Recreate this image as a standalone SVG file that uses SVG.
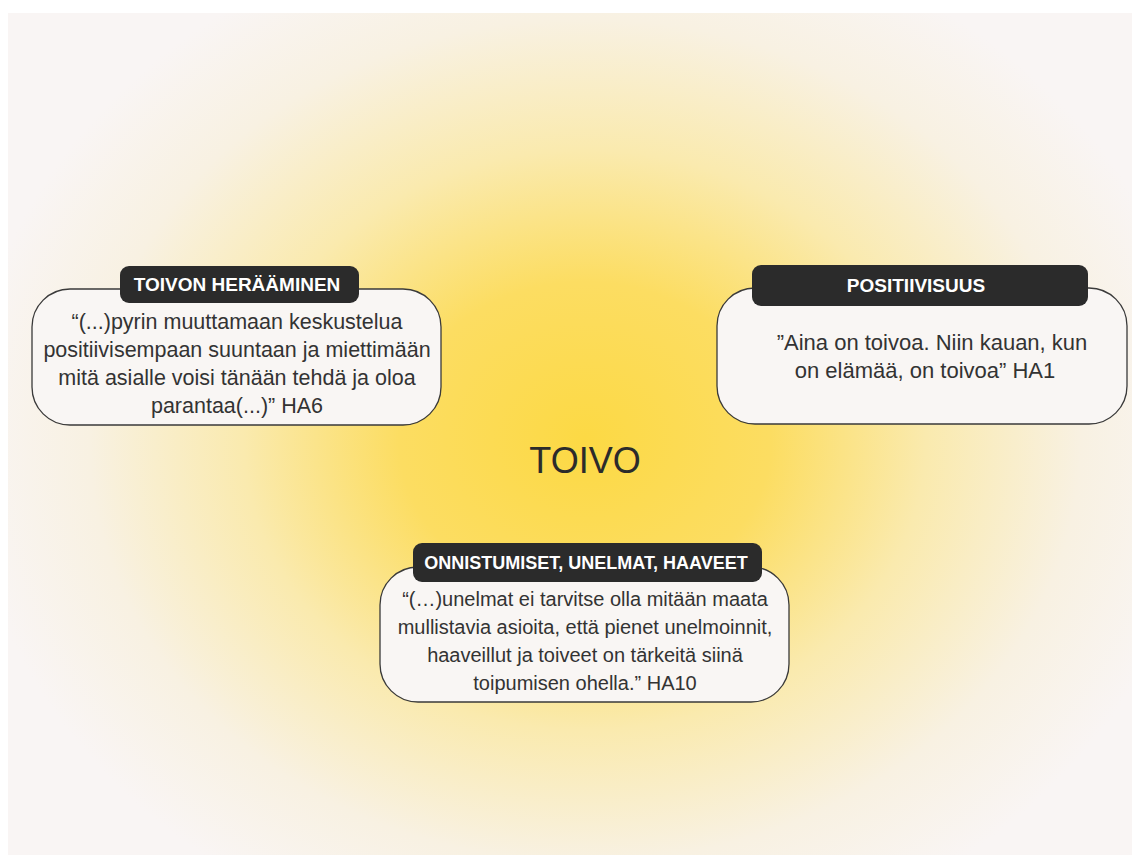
<svg xmlns="http://www.w3.org/2000/svg" width="1132" height="855" viewBox="0 0 1132 855">
<defs>
<radialGradient id="bg" cx="585" cy="440" r="620" gradientUnits="userSpaceOnUse" gradientTransform="translate(585 440) scale(1 0.85) translate(-585 -440)">
<stop offset="0" stop-color="#fcd944"/>
<stop offset="0.3" stop-color="#fcdd62"/>
<stop offset="0.55" stop-color="#faeaae"/>
<stop offset="0.8" stop-color="#f8f1e2"/>
<stop offset="1" stop-color="#f9f5f4"/>
</radialGradient>
<style>
.body{fill:#f9f6f4;stroke:#3a3a3a;stroke-width:1.3}
.head{fill:#2b2b2b}
.ht{font-family:"Liberation Sans",Arial,sans-serif;font-weight:bold;font-size:19px;fill:#ffffff;text-anchor:middle}
.bt{font-family:"Liberation Sans",Arial,sans-serif;font-size:21.5px;fill:#333333;text-anchor:middle}
.title{font-family:"Liberation Sans",Arial,sans-serif;font-size:36px;fill:#2b2b2b;text-anchor:middle}
</style>
</defs>
<rect x="0" y="0" width="1132" height="855" fill="#ffffff"/>
<rect x="8" y="13" width="1124" height="842" fill="url(#bg)"/>
<g id="center">
<text class="title" x="585" y="473">TOIVO</text>
</g>
<g id="node-toivon-heraaminen">
<rect class="body" x="32" y="289" width="409" height="136" rx="38"/>
<rect class="head" x="120" y="266" width="239" height="37" rx="9"/>
<text class="ht" x="237" y="291">TOIVON HERÄÄMINEN</text>
<text class="bt" x="237" y="329">“(...)pyrin muuttamaan keskustelua</text>
<text class="bt" x="237" y="357">positiivisempaan suuntaan ja miettimään</text>
<text class="bt" x="237" y="385">mitä asialle voisi tänään tehdä ja oloa</text>
<text class="bt" x="237" y="413">parantaa(...)” HA6</text>
</g>
<g id="node-positiivisuus">
<rect class="body" x="717" y="288" width="410" height="136" rx="38"/>
<rect class="head" x="752" y="265" width="336" height="41" rx="9"/>
<text class="ht" x="916" y="292">POSITIIVISUUS</text>
<text class="bt" x="932" y="350" style="font-size:22px">”Aina on toivoa. Niin kauan, kun</text>
<text class="bt" x="925" y="378" style="font-size:22px">on elämää, on toivoa” HA1</text>
</g>
<g id="node-onnistumiset">
<rect class="body" x="380" y="567" width="409" height="135" rx="38"/>
<rect class="head" x="413" y="543" width="349" height="39" rx="9"/>
<text class="ht" x="586" y="569" style="font-size:18px">ONNISTUMISET, UNELMAT, HAAVEET</text>
<text class="bt" x="585" y="606" style="font-size:20px">“(…)unelmat ei tarvitse olla mitään maata</text>
<text class="bt" x="585" y="634" style="font-size:20px">mullistavia asioita, että pienet unelmoinnit,</text>
<text class="bt" x="585" y="662" style="font-size:20px">haaveillut ja toiveet on tärkeitä siinä</text>
<text class="bt" x="585" y="690" style="font-size:20px">toipumisen ohella.” HA10</text>
</g>
<g id="connectors"></g>
</svg>
